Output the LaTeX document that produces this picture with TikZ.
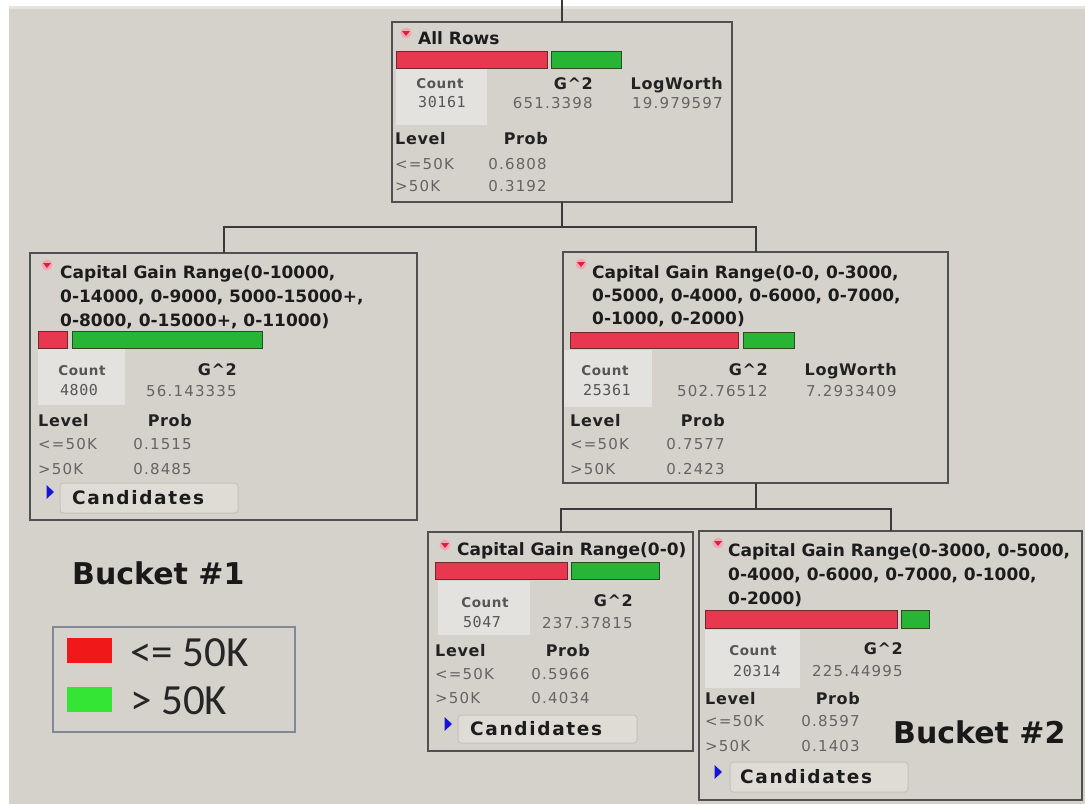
\documentclass[tikz,border=0pt]{standalone}
\usepackage{fontspec}
\setmainfont{DejaVu Sans}
\newfontfamily\valf[LetterSpace=8]{DejaVu Sans}
\newfontfamily\labf[LetterSpace=4]{DejaVu Sans Bold}
\newfontfamily\monof[LetterSpace=4]{DejaVu Sans Mono}
\newfontfamily\btnf[LetterSpace=9]{DejaVu Sans Bold}
\newfontfamily\calf{Carlito}
\definecolor{bg}{HTML}{D5D2CC}
\definecolor{bgl}{HTML}{E6E3DC}
\definecolor{panelc}{HTML}{E4E2DE}
\definecolor{boxc}{HTML}{505050}
\definecolor{connc}{HTML}{3A3A3A}
\definecolor{barred}{HTML}{E8384F}
\definecolor{barredd}{HTML}{6A2A30}
\definecolor{bargreen}{HTML}{27B536}
\definecolor{bargreend}{HTML}{2A4A2A}
\definecolor{legred}{HTML}{F01818}
\definecolor{leggreen}{HTML}{35E535}
\definecolor{legbox}{HTML}{7E8A98}
\definecolor{btnc}{HTML}{DFDCD6}
\definecolor{btnd}{HTML}{C5C1B9}
\definecolor{valc}{HTML}{646464}
\definecolor{labc}{HTML}{222222}
\definecolor{titlec}{HTML}{1C1C1C}
\definecolor{countc}{HTML}{555555}
\definecolor{bluetri}{HTML}{1515D5}
\definecolor{pinkc}{HTML}{F2A8B4}
\definecolor{tric}{HTML}{E0203A}
\tikzset{
  treebox/.style={draw=boxc, line width=2pt, inner sep=0pt, outer sep=0pt},
  conn/.style={draw=connc, line width=2pt},
  redbar/.style={fill=barred, draw=barredd, line width=1pt},
  greenbar/.style={fill=bargreen, draw=bargreend, line width=1pt},
  panel/.style={fill=panelc},
  ttl/.style={font={\fontsize{17}{20}\selectfont\bfseries}, text=titlec, anchor=base west, inner sep=0pt},
  lab/.style={font={\labf\fontsize{16}{19}\selectfont}, text=labc, inner sep=0pt},
  cnt/.style={font={\labf\fontsize{13.5}{16}\selectfont}, text=countc, anchor=base, inner sep=0pt},
  cntv/.style={font={\monof\fontsize{15}{18}\selectfont}, text=countc, anchor=base, inner sep=0pt},
  val/.style={font={\valf\fontsize{15}{18}\selectfont}, text=valc, inner sep=0pt},
  btn/.style={fill=btnc, draw=btnd, line width=1pt, rounded corners=3pt},
  btntext/.style={font={\btnf\fontsize{18.5}{21}\selectfont}, text=titlec, anchor=base west, inner sep=0pt},
  bucket/.style={font={\fontsize{30}{34}\selectfont\bfseries}, text=black!90, anchor=base west, inner sep=0pt},
  legtext/.style={font={\calf\fontsize{43}{47}\selectfont}, text=black!85, anchor=base west, inner sep=0pt},
}
\newcommand{\redicon}[2]{%
  \fill[pinkc] (#1,#2) circle (5.5pt);
  \fill[tric] (#1-4,#2-2) -- (#1+4,#2-2) -- (#1,#2+3) -- cycle;}
\newcommand{\bluetriangle}[2]{%
  \fill[bluetri] (#1-3.5,#2-7) -- (#1+4,#2) -- (#1-3.5,#2+7) -- cycle;}
\begin{document}
\begin{tikzpicture}[x=1pt,y=-1pt]
\useasboundingbox (0,0) rectangle (1085,804);
\fill[white] (0,0) rectangle (1085,804);
\fill[bg] (9,6) rectangle (1085,804);
\fill[bgl] (9,6) rectangle (1085,9);

% ---------- boxes ----------
\node[treebox, minimum width=340pt, minimum height=180pt] (root) at (562,112) {};
\node[treebox, minimum width=387pt, minimum height=267pt] (cl) at (223.5,386.5) {};
\node[treebox, minimum width=385pt, minimum height=231pt] (cr) at (755.5,367.5) {};
\node[treebox, minimum width=265pt, minimum height=219pt] (bl) at (560.5,641.5) {};
\node[treebox, minimum width=383pt, minimum height=269pt] (br) at (890.5,665.5) {};

% ---------- connectors ----------
\coordinate (topc) at (562,0);
\coordinate (j1) at (562,227);
\coordinate (j2) at (755.5,509);
\draw[conn] (topc) -- (root.north);
\draw[conn] (root.south) -- (j1);
\draw[conn] (j1) -| (cl.north);
\draw[conn] (j1) -| (cr.north);
\draw[conn] (cr.south) -- (j2);
\draw[conn] (j2) -| (bl.north);
\draw[conn] (j2) -| (br.north);

% ---------- root ----------
\redicon{406}{33}
\node[ttl] (r-t) at (418,44) {All Rows};
\fill[panel] (396,68) rectangle (487,125);
\draw[redbar] (396,51) rectangle (547,68);
\draw[greenbar] (551,51) rectangle (621,68);
\node[cnt] (r-c) at (440,88) {Count};
\node[cntv] (r-cv) at (442,107) {30161};
\node[lab, anchor=base east] (r-g) at (593,89) {G\^{}2};
\node[lab, anchor=base east] (r-lw) at (723,89) {LogWorth};
\node[val, anchor=base east] (r-gv) at (593,108) {651.3398};
\node[val, anchor=base east] (r-lwv) at (723,108) {19.979597};
\node[lab, anchor=base west] (r-l) at (395,144) {Level};
\node[lab, anchor=base east] (r-p) at (548,144) {Prob};
\node[val, anchor=base west] (r-a) at (395,169) {<=50K};
\node[val, anchor=base east] (r-av) at (547,169) {0.6808};
\node[val, anchor=base west] (r-b) at (395,191) {>50K};
\node[val, anchor=base east] (r-bv) at (547,191) {0.3192};

% ---------- left child ----------
\redicon{47}{265}
\node[ttl] (cl-t1) at (60,278) {Capital Gain Range(0-10000,};
\node[ttl] (cl-t2) at (60,302) {0-14000, 0-9000, 5000-15000+,};
\node[ttl] (cl-t3) at (60,326) {0-8000, 0-15000+, 0-11000)};
\fill[panel] (38,349) rectangle (125,405);
\draw[redbar] (38,331) rectangle (67,348);
\draw[greenbar] (72,331) rectangle (262,348);
\node[cnt] (cl-c) at (82,375) {Count};
\node[cntv] (cl-cv) at (79,395) {4800};
\node[lab, anchor=base east] (cl-g) at (237,375) {G\^{}2};
\node[val, anchor=base east] (cl-gv) at (237,396) {56.143335};
\node[lab, anchor=base west] (cl-l) at (38,426) {Level};
\node[lab, anchor=base east] (cl-p) at (192,426) {Prob};
\node[val, anchor=base west] (cl-a) at (38,449) {<=50K};
\node[val, anchor=base east] (cl-av) at (192,449) {0.1515};
\node[val, anchor=base west] (cl-b) at (38,474) {>50K};
\node[val, anchor=base east] (cl-bv) at (192,474) {0.8485};
\bluetriangle{50}{492}
\draw[btn] (60,483) rectangle (238,513);
\node[btntext] (cl-btn) at (72,504) {Candidates};

% ---------- right child ----------
\redicon{581}{264}
\node[ttl] (cr-t1) at (592,278) {Capital Gain Range(0-0, 0-3000,};
\node[ttl] (cr-t2) at (592,301) {0-5000, 0-4000, 0-6000, 0-7000,};
\node[ttl] (cr-t3) at (592,324) {0-1000, 0-2000)};
\fill[panel] (564,350) rectangle (652,407);
\draw[redbar] (570,332) rectangle (738,348);
\draw[greenbar] (743,332) rectangle (794,348);
\node[cnt] (cr-c) at (605,375) {Count};
\node[cntv] (cr-cv) at (607,395) {25361};
\node[lab, anchor=base east] (cr-g) at (768,375) {G\^{}2};
\node[lab, anchor=base east] (cr-lw) at (897,375) {LogWorth};
\node[val, anchor=base east] (cr-gv) at (768,396) {502.76512};
\node[val, anchor=base east] (cr-lwv) at (897,396) {7.2933409};
\node[lab, anchor=base west] (cr-l) at (570,426) {Level};
\node[lab, anchor=base east] (cr-p) at (725,426) {Prob};
\node[val, anchor=base west] (cr-a) at (570,449) {<=50K};
\node[val, anchor=base east] (cr-av) at (725,449) {0.7577};
\node[val, anchor=base west] (cr-b) at (570,474) {>50K};
\node[val, anchor=base east] (cr-bv) at (725,474) {0.2423};

% ---------- bottom-left child ----------
\redicon{445}{545}
\node[ttl] (bl-t1) at (457,555) {Capital Gain Range(0-0)};
\fill[panel] (438,581) rectangle (530,635);
\draw[redbar] (435,562) rectangle (567,579);
\draw[greenbar] (571,562) rectangle (659,579);
\node[cnt] (bl-c) at (485,607) {Count};
\node[cntv] (bl-cv) at (482,627) {5047};
\node[lab, anchor=base east] (bl-g) at (633,606) {G\^{}2};
\node[val, anchor=base east] (bl-gv) at (633,628) {237.37815};
\node[lab, anchor=base west] (bl-l) at (435,656) {Level};
\node[lab, anchor=base east] (bl-p) at (590,656) {Prob};
\node[val, anchor=base west] (bl-a) at (435,679) {<=50K};
\node[val, anchor=base east] (bl-av) at (590,679) {0.5966};
\node[val, anchor=base west] (bl-b) at (435,703) {>50K};
\node[val, anchor=base east] (bl-bv) at (590,703) {0.4034};
\bluetriangle{448}{724}
\draw[btn] (458,715) rectangle (637,743);
\node[btntext] (bl-btn) at (470,735) {Candidates};

% ---------- bottom-right child ----------
\redicon{718}{543}
\node[ttl] (br-t1) at (728,556) {Capital Gain Range(0-3000, 0-5000,};
\node[ttl] (br-t2) at (728,580) {0-4000, 0-6000, 0-7000, 0-1000,};
\node[ttl] (br-t3) at (728,604) {0-2000)};
\fill[panel] (705,630) rectangle (800,688);
\draw[redbar] (705,610) rectangle (897,628);
\draw[greenbar] (901,610) rectangle (929,628);
\node[cnt] (br-c) at (753,655) {Count};
\node[cntv] (br-cv) at (757,676) {20314};
\node[lab, anchor=base east] (br-g) at (903,654) {G\^{}2};
\node[val, anchor=base east] (br-gv) at (903,676) {225.44995};
\node[lab, anchor=base west] (br-l) at (705,704) {Level};
\node[lab, anchor=base east] (br-p) at (860,704) {Prob};
\node[val, anchor=base west] (br-a) at (705,726) {<=50K};
\node[val, anchor=base east] (br-av) at (860,726) {0.8597};
\node[val, anchor=base west] (br-b) at (705,751) {>50K};
\node[val, anchor=base east] (br-bv) at (860,751) {0.1403};
\node[bucket] (b2) at (893,743) {Bucket \#2};
\bluetriangle{718}{772}
\draw[btn] (730,762) rectangle (908,792);
\node[btntext] (br-btn) at (740,783) {Candidates};

% ---------- legend ----------
\node[bucket] (b1) at (72,584) {Bucket \#1};
\draw[draw=legbox, line width=2pt] (53,627) rectangle (295,732);
\fill[legred] (67,638) rectangle (112,663);
\fill[leggreen] (67,687) rectangle (112,712);
\node[legtext] (lg-a) at (130,666) {<= 50K};
\node[legtext] (lg-b) at (130,714) {> 50K};
\end{tikzpicture}
\end{document}
